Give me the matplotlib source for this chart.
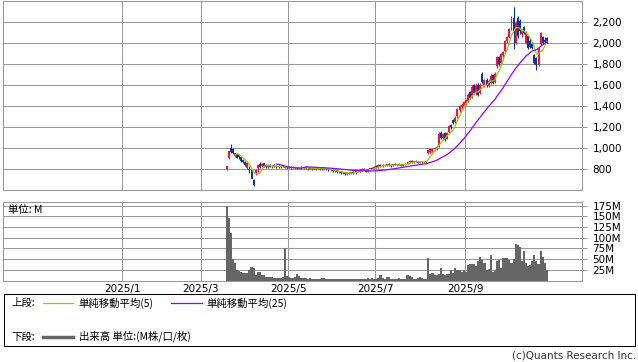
import numpy as np
import pandas as pd
import matplotlib
matplotlib.use('Agg')
import matplotlib.pyplot as plt
import matplotlib.ticker as ticker

JP = ['Noto Sans CJK JP', 'DejaVu Sans']

# trading-day index 0 = first trading day (listing, 2025/3)
opens = [800, 905, 1000, 990, 925, 940, 935, 915, 890, 870,
         810, 800, 790, 700, 760, 810, 850, 835, 855, 840,
         820, 840, 828, 835, 825, 830, 820, 828, 822, 815,
         822, 815, 818, 812, 815, 808, 815, 810, 818, 808,
         812, 805, 812, 806, 810, 802, 808, 800, 806, 798,
         790, 795, 782, 788, 770, 778, 762, 768, 752, 765,
         758, 770, 762, 780, 790, 784, 800, 795, 776, 800,
         810, 805, 825, 820, 842, 830, 840, 835, 846, 838,
         830, 845, 840, 848, 842, 835, 848, 852, 865, 878,
         866, 875, 870, 862, 872, 866, 870, 955, 960, 975,
         990, 1000, 1020, 1140, 1100, 1140, 1090, 1150, 1215, 1265,
         1250, 1300, 1360, 1390, 1400, 1430, 1450, 1530, 1490, 1600,
         1530, 1600, 1520, 1700, 1600, 1650, 1590, 1620, 1690, 1630,
         1780, 1860, 1810, 1880, 1920, 2020, 2050, 2150, 2230, 2000,
         2230, 2210, 2080, 2150, 2000, 2060, 2020, 1990, 1880, 1850,
         1790, 1990, 2050, 2030, 2040]
highs = [835, 975, 1040, 1000, 955, 950, 945, 925, 900, 880,
         870, 830, 805, 705, 800, 850, 865, 860, 862, 850,
         845, 848, 842, 845, 838, 838, 835, 840, 832, 828,
         830, 826, 830, 822, 825, 820, 828, 822, 826, 818,
         820, 818, 822, 815, 818, 812, 815, 810, 812, 808,
         800, 802, 795, 792, 785, 784, 775, 772, 770, 772,
         775, 780, 785, 795, 802, 808, 812, 800, 805, 815,
         822, 830, 840, 848, 850, 845, 852, 850, 855, 848,
         848, 856, 852, 858, 850, 852, 858, 870, 885, 888,
         880, 890, 882, 878, 880, 875, 880, 990, 1000, 1000,
         1010, 1030, 1150, 1160, 1140, 1150, 1150, 1220, 1225, 1275,
         1300, 1380, 1410, 1430, 1450, 1470, 1520, 1545, 1600, 1610,
         1620, 1615, 1620, 1720, 1660, 1665, 1660, 1700, 1700, 1720,
         1870, 1870, 1900, 1920, 2030, 2060, 2140, 2250, 2340, 2210,
         2250, 2220, 2130, 2160, 2110, 2070, 2040, 2010, 1890, 1860,
         1960, 2100, 2060, 2050, 2050]
lows = [795, 900, 955, 945, 915, 905, 900, 870, 855, 830,
        800, 760, 730, 640, 745, 770, 815, 820, 820, 815,
        815, 820, 815, 822, 812, 815, 812, 818, 808, 805,
        810, 805, 808, 800, 804, 798, 806, 800, 806, 795,
        800, 796, 802, 795, 798, 792, 796, 790, 794, 785,
        780, 778, 772, 765, 762, 758, 752, 743, 748, 752,
        750, 758, 758, 772, 778, 780, 788, 770, 772, 795,
        800, 802, 815, 816, 825, 822, 830, 826, 834, 825,
        826, 836, 832, 838, 828, 830, 840, 846, 858, 860,
        855, 865, 858, 855, 860, 855, 862, 945, 950, 960,
        975, 985, 1010, 1090, 1080, 1070, 1085, 1140, 1180, 1230,
        1240, 1290, 1340, 1370, 1390, 1410, 1440, 1470, 1480, 1510,
        1500, 1490, 1510, 1620, 1580, 1580, 1580, 1610, 1610, 1620,
        1760, 1780, 1800, 1850, 1910, 2000, 2040, 2120, 1940, 1990,
        2040, 2080, 2050, 2080, 1990, 1940, 1950, 1940, 1800, 1740,
        1780, 1980, 1990, 1990, 2000]
closes = [830, 970, 960, 955, 950, 910, 915, 880, 865, 840,
          855, 790, 710, 650, 790, 840, 825, 850, 830, 820,
          840, 825, 835, 830, 818, 820, 830, 822, 812, 825,
          815, 820, 812, 818, 808, 815, 810, 818, 808, 812,
          805, 814, 806, 810, 802, 808, 800, 806, 798, 790,
          795, 782, 788, 770, 778, 762, 770, 752, 765, 758,
          770, 762, 780, 790, 784, 800, 795, 775, 800, 810,
          805, 825, 820, 842, 830, 840, 835, 846, 838, 830,
          845, 840, 848, 842, 835, 848, 852, 865, 878, 866,
          875, 870, 862, 872, 866, 870, 875, 985, 990, 995,
          1000, 1010, 1130, 1100, 1130, 1080, 1140, 1210, 1200, 1240,
          1290, 1370, 1400, 1410, 1440, 1460, 1500, 1480, 1580, 1520,
          1590, 1500, 1600, 1630, 1650, 1590, 1640, 1680, 1620, 1700,
          1860, 1800, 1890, 1910, 2020, 2050, 2130, 2240, 2090, 2190,
          2060, 2110, 2110, 2090, 2100, 1950, 1960, 1950, 1810, 1790,
          1950, 2090, 2000, 2010, 2020]
volumes = [174, 147, 111, 50, 41, 24, 22, 20, 19, 19,
           17, 24, 31, 29, 13, 20, 20, 13, 13, 9,
           8, 9, 9, 6, 6, 7, 6, 9, 76, 10,
           8, 7, 6, 9, 15, 11, 7, 6, 6, 5,
           6, 4, 4, 5, 5, 4, 6, 7, 5, 4,
           4, 4, 5, 4, 5, 4, 4, 5, 4, 4,
           3, 4, 4, 5, 4, 4, 5, 4, 6, 5,
           7, 5, 4, 6, 13, 6, 5, 8, 8, 5,
           4, 4, 5, 6, 5, 4, 5, 13, 11, 9,
           5, 4, 6, 8, 7, 5, 4, 53, 15, 17,
           13, 13, 15, 29, 15, 13, 15, 15, 24, 19,
           29, 25, 24, 21, 24, 21, 37, 39, 39, 39,
           35, 46, 55, 49, 42, 25, 27, 60, 21, 24,
           47, 49, 29, 53, 53, 53, 49, 42, 50, 86,
           82, 78, 45, 70, 41, 35, 37, 45, 60, 45,
           40, 70, 55, 42, 25]

month_labels = ['2025/1', '2025/3', '2025/5', '2025/7', '2025/9']
month_pos = [-50.2, -12.3, 29.6, 71.4, 114.7]
price_ticks = [800, 1000, 1200, 1400, 1600, 1800, 2000, 2200]
vol_ticks = [25, 50, 75, 100, 125, 150, 175]

RED = '#F5103F'
BLUE = '#0A3698'
GRID = '#999999'

W, H = 638, 362


def rect(l, t, r, b):
    return [l / W, 1 - b / H, (r - l) / W, (b - t) / H]


idx = np.arange(len(closes))
o = np.array(opens)
c = np.array(closes)
cols = np.where(c >= o, RED, BLUE)
ma5 = pd.Series(closes).rolling(5).mean()
ma25 = pd.Series(closes).rolling(25).mean()

fig = plt.figure(figsize=(W / 100, H / 100), dpi=100)

# upper panel: candles + moving averages
ax = fig.add_axes(rect(3, 0.5, 582, 190.3))
ax.set_axisbelow(True)
ax.grid(color=GRID, lw=0.75)
ax.vlines(idx, lows, highs, colors=cols, lw=0.8)
ax.bar(idx, np.maximum(np.abs(c - o), 6), bottom=np.minimum(o, c),
       width=0.95, color=cols, linewidth=0)
ax.plot(idx, ma5, color='#99CC00', lw=0.9)
ax.plot(idx, ma25, color='#9900FF', lw=0.9)
ax.set_xlim(-107.5, 170.9)
ax.set_ylim(600, 2400)
ax.set_xticks(month_pos)
ax.tick_params(axis='x', length=0, labelbottom=False)
ax.yaxis.tick_right()
ax.set_yticks(price_ticks)
ax.yaxis.set_major_formatter(ticker.StrMethodFormatter('{x:,.0f}'))
ax.tick_params(axis='y', length=3.6, width=0.75, color=GRID, labelsize=7.5, pad=4)
for s in ax.spines.values():
    s.set_color(GRID)
    s.set_linewidth(0.75)

# lower panel: volume
ax2 = fig.add_axes(rect(3, 201.7, 582, 280.7))
ax2.set_axisbelow(True)
ax2.grid(color=GRID, lw=0.75)
ax2.bar(idx, volumes, width=1.0, color='#666666', linewidth=0)
ax2.set_xlim(-107.5, 170.9)
ax2.set_ylim(0, 184)
ax2.set_xticks(month_pos)
ax2.set_xticklabels(month_labels)
ax2.tick_params(axis='x', length=0, labelsize=7.5, pad=2.5)
ax2.yaxis.tick_right()
ax2.set_yticks(vol_ticks)
ax2.set_yticklabels([f'{v}M' for v in vol_ticks])
ax2.tick_params(axis='y', length=3.6, width=0.75, color=GRID, labelsize=7.5, pad=4)
for s in ax2.spines.values():
    s.set_color(GRID)
    s.set_linewidth(0.75)
fig.text(8 / W, 1 - 210 / H, '単位: M', family=JP, fontsize=7.5, va='center')

# legend box
lg = fig.add_axes(rect(3.5, 294.3, 634.5, 345.7))
lg.set_xlim(3.5, 634.5)
lg.set_ylim(345.7, 294.3)
lg.set_xticks([])
lg.set_yticks([])
for s in lg.spines.values():
    s.set_color('black')
    s.set_linewidth(0.75)
lg.text(11.7, 303.3, '上段:', family=JP, fontsize=7.5, va='center')
lg.plot([43, 73], [303.3, 303.3], color='#99CC00', lw=0.9)
lg.text(78.3, 303.3, '単純移動平均(5)', family=JP, fontsize=7.5, va='center')
lg.plot([171, 202], [303.3, 303.3], color='#9900FF', lw=0.9)
lg.text(206.7, 303.3, '単純移動平均(25)', family=JP, fontsize=7.5, va='center')
lg.text(11.7, 336.7, '下段:', family=JP, fontsize=7.5, va='center')
lg.plot([43, 73], [336.7, 336.7], color='#666666', lw=2.5)
lg.text(79.3, 336.7, '出来高 単位:(M株/口/枚)', family=JP, fontsize=7.5, va='center')

fig.text(636 / W, 1 - 355.5 / H, '(c)Quants Research Inc.', fontsize=7.5,
         ha='right', va='center', color='#333333')

fig.savefig('out.png', dpi=100)
